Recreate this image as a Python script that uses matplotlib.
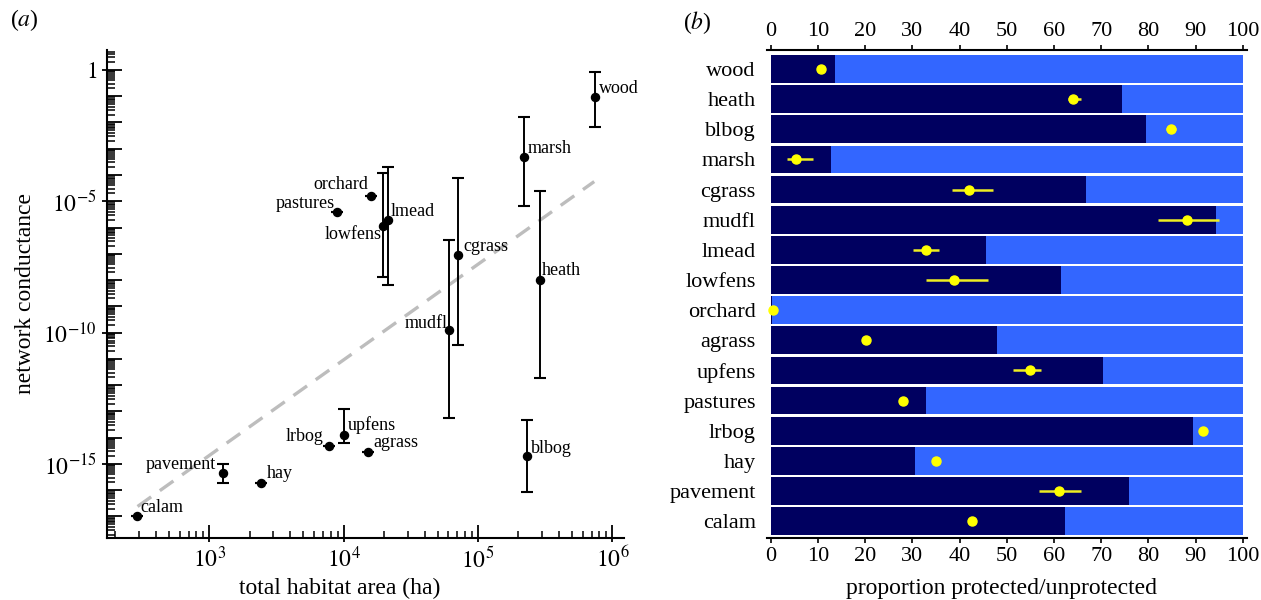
import numpy as np
import matplotlib
matplotlib.use('Agg')
import matplotlib.pyplot as plt
from matplotlib.ticker import FixedLocator, FuncFormatter, NullFormatter

plt.rcParams['font.family'] = ['Liberation Serif', 'DejaVu Serif']
plt.rcParams['mathtext.fontset'] = 'stix'

# ---------------- panel (a) data ----------------
habitats_a = ['calam', 'pavement', 'hay', 'lrbog', 'upfens', 'agrass', 'pastures', 'orchard',
              'lowfens', 'lmead', 'mudfl', 'cgrass', 'blbog', 'marsh', 'heath', 'wood']
area_ha = [287, 1260, 2420, 7780, 10000, 15200, 8980, 15900,
           19700, 21500, 61200, 70800, 231000, 219000, 287000, 742000]
log_cond = [-16.98, -15.34, -15.71, -14.31, -13.89, -14.53, -5.41, -4.80,
            -5.93, -5.70, -9.91, -7.06, -14.68, -3.33, -7.98, -1.04]
log_cond_lo = [-16.98, -15.73, -15.71, -14.31, -14.20, -14.53, -5.41, -4.80,
               -7.89, -8.19, -13.26, -10.46, -16.08, -5.18, -11.73, -2.18]
log_cond_hi = [-16.98, -15.00, -15.71, -14.31, -12.91, -14.53, -5.41, -4.80,
               -3.94, -3.68, -6.48, -4.10, -13.32, -1.81, -4.61, -0.09]
fit_area = [292, 733000]
fit_log_cond = [-16.62, -4.25]

# ---------------- panel (b) data ----------------
habitats_b = ['wood', 'heath', 'blbog', 'marsh', 'cgrass', 'mudfl', 'lmead', 'lowfens',
              'orchard', 'agrass', 'upfens', 'pastures', 'lrbog', 'hay', 'pavement', 'calam']
protected = [13.6, 74.5, 79.4, 12.7, 66.8, 94.3, 45.6, 61.4,
             0.3, 48.0, 70.4, 33.0, 89.4, 30.5, 76.0, 62.3]
point_mean = [10.6, 64.0, 84.7, 5.3, 42.1, 88.1, 32.9, 38.9,
              0.4, 20.1, 54.9, 28.0, 91.5, 35.1, 61.1, 42.6]
point_lo = [9.8, 63.0, 83.7, 3.5, 38.3, 82.1, 30.2, 33.0,
            0.4, 20.1, 51.3, 28.0, 91.5, 35.1, 56.8, 42.6]
point_hi = [11.5, 65.8, 85.9, 8.9, 47.0, 94.9, 35.6, 46.0,
            0.4, 20.1, 57.3, 28.0, 91.5, 35.1, 65.8, 42.6]
xticks_b = list(range(0, 101, 10))

# label offsets (points) and alignment for panel (a) -- style only
label_style = {
    'calam': (3, 6, 'left'), 'pavement': (-5, 6, 'right'), 'hay': (4, 6.5, 'left'),
    'lrbog': (-4, 6.5, 'right'), 'upfens': (3, 7, 'left'), 'agrass': (4, 6.5, 'left'),
    'pastures': (-2, 6.5, 'right'), 'orchard': (-2, 8, 'right'), 'lowfens': (-1.5, -6.5, 'right'),
    'lmead': (2, 6, 'left'), 'mudfl': (-1.5, 5, 'right'), 'cgrass': (4, 6.5, 'left'),
    'blbog': (3, 5, 'left'), 'marsh': (3, 6.5, 'left'), 'heath': (2, 6.5, 'left'),
    'wood': (3, 6, 'left'),
}

fig = plt.figure(figsize=(12.61, 6.0), dpi=100)

# ================= panel (a) =================
ax = fig.add_axes([0.0846, 0.1033, 0.4102, 0.8134])
ax.set_xscale('log')
ax.set_yscale('log')

y = 10.0 ** np.array(log_cond)
ylo = 10.0 ** np.array(log_cond_lo)
yhi = 10.0 ** np.array(log_cond_hi)
x = np.array(area_ha, dtype=float)

ax.plot(fit_area, 10.0 ** np.array(fit_log_cond), color='#BDBDBD', lw=2.4,
        dashes=(5, 3.2), zorder=1)
ax.errorbar(x, y, yerr=[y - ylo, yhi - y], fmt='o', color='black', ms=5.8,
            ecolor='black', elinewidth=1.4, capsize=4.2, capthick=1.5, zorder=3)
for name, xi, yi in zip(habitats_a, x, y):
    dx, dy, ha = label_style[name]
    ax.annotate(name, (xi, yi), xytext=(dx, dy), textcoords='offset points',
                ha=ha, va='center', fontsize=13)

ax.set_xlim(172, 1.22e6)
ax.set_ylim(10 ** -17.82, 10 ** 0.76)

for s in ['top', 'right']:
    ax.spines[s].set_visible(False)
for s in ['left', 'bottom']:
    ax.spines[s].set_linewidth(1.5)

major_x = [1e3, 1e4, 1e5, 1e6]
ax.xaxis.set_major_locator(FixedLocator(major_x))
ax.xaxis.set_minor_locator(FixedLocator([k * 10.0 ** d for d in range(2, 7) for k in range(2, 10)]))
ax.xaxis.set_major_formatter(FuncFormatter(lambda v, p: r'$10^{%d}$' % round(np.log10(v))))
ax.xaxis.set_minor_formatter(NullFormatter())

ax.yaxis.set_major_locator(FixedLocator([10.0 ** d for d in range(-18, 1)]))
ax.yaxis.set_minor_locator(FixedLocator([k * 10.0 ** d for d in range(-18, 1) for k in range(2, 10)]))


def yfmt(v, p):
    e = int(round(np.log10(v)))
    if e % 5 != 0:
        return ''
    if e == 0:
        return r'$1$'
    return r'$10^{%d}$' % e


ax.yaxis.set_major_formatter(FuncFormatter(yfmt))
ax.yaxis.set_minor_formatter(NullFormatter())

ax.tick_params(axis='x', which='major', direction='in', length=9.4, width=1.3, labelsize=17, pad=6)
ax.tick_params(axis='x', which='minor', direction='in', length=5, width=1.1)
ax.tick_params(axis='y', which='major', direction='in', length=10.8, width=1.3, labelsize=17, pad=7)
ax.tick_params(axis='y', which='minor', direction='in', length=5.5, width=1.1)

# short outward stubs on the labelled ticks
try:
    ident = (lambda v: v, lambda v: v)
    sy = ax.secondary_yaxis('left', functions=ident)
    sy.yaxis.set_major_locator(FixedLocator([10.0 ** d for d in range(-15, 1, 5)]))
    sy.yaxis.set_minor_locator(FixedLocator([]))
    sy.yaxis.set_major_formatter(NullFormatter())
    sy.tick_params(axis='y', direction='out', length=3.6, width=1.3)
    sy.spines['left'].set_visible(False)
    sx = ax.secondary_xaxis('bottom', functions=ident)
    sx.xaxis.set_major_locator(FixedLocator(major_x))
    sx.xaxis.set_minor_locator(FixedLocator([]))
    sx.xaxis.set_major_formatter(NullFormatter())
    sx.tick_params(axis='x', direction='out', length=3.0, width=1.3)
    sx.spines['bottom'].set_visible(False)
except Exception:
    pass

ax.set_xlabel('total habitat area (ha)', fontsize=17)
ax.xaxis.set_label_coords(0.451, -0.1025)
ax.xaxis.label.set_va('center')
ax.set_ylabel('network conductance', fontsize=17)
ax.yaxis.set_label_coords(-0.157, 0.5)
ax.yaxis.label.set_va('center')

fig.text(0.008, 0.967, r'($\mathit{a}$)', fontsize=17, ha='left', va='center')

# ================= panel (b) =================
bx = fig.add_axes([0.6082, 0.1028, 0.3807, 0.8139])
pos = np.arange(len(habitats_b))
prot = np.array(protected)
bx.barh(pos, prot, height=0.92, color='#000060', edgecolor='none', zorder=1)
bx.barh(pos, 100 - prot, left=prot, height=0.92, color='#3366FF', edgecolor='none', zorder=1)
pm = np.array(point_mean)
bx.errorbar(pm, pos, xerr=[pm - np.array(point_lo), np.array(point_hi) - pm], fmt='o',
            color='#FFFF00', ms=6.5, ecolor='#EEEE22', elinewidth=1.8, capsize=0, zorder=3)

bx.set_xlim(-0.8, 100.9)
bx.set_ylim(15.57, -0.63)
bx.set_yticks(pos)
bx.set_yticklabels(habitats_b, fontsize=16)
bx.set_xticks(xticks_b)
bx.tick_params(axis='y', length=0, pad=8)
bx.tick_params(axis='x', which='major', direction='out', length=3.6, width=1.2, labelsize=16,
               top=True, labeltop=True, bottom=True, labelbottom=True, pad=3)
for s in ['left', 'right']:
    bx.spines[s].set_visible(False)
for s in ['top', 'bottom']:
    bx.spines[s].set_linewidth(1.5)

bx.set_xlabel('proportion protected/unprotected', fontsize=17)
bx.xaxis.set_label_position('bottom')
bx.xaxis.set_label_coords(0.488, -0.1025)
bx.xaxis.label.set_va('center')

fig.text(0.5415, 0.963, r'($\mathit{b}$)', fontsize=17, ha='left', va='center')

fig.savefig('out.png', dpi=100)
